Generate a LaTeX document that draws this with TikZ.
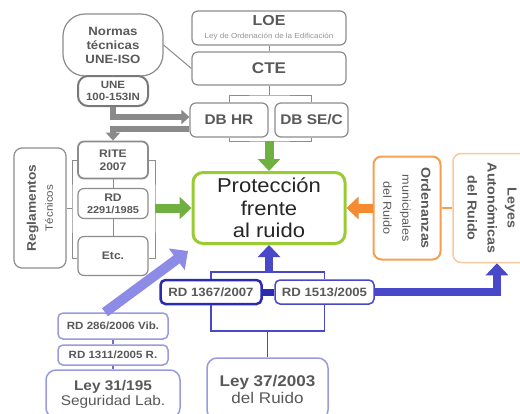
\documentclass[tikz,border=0pt]{standalone}
\usepackage{fontspec}
\setmainfont[FakeStretch=1.1]{Liberation Sans}
\usetikzlibrary{arrows.meta}
\definecolor{gborder}{HTML}{8C8C8C}
\definecolor{gtext}{HTML}{595959}
\definecolor{garrow}{HTML}{8A8A8A}
\definecolor{limeB}{HTML}{99CC33}
\definecolor{greenA}{HTML}{70B040}
\definecolor{orangeB}{HTML}{F5A050}
\definecolor{orangeA}{HTML}{F58A30}
\definecolor{orangeL}{HTML}{F8C8A0}
\definecolor{blueD}{HTML}{2B2BB0}
\definecolor{blueM}{HTML}{4848C8}
\definecolor{blueL}{HTML}{8C8CE6}
\definecolor{blueLB}{HTML}{9A9AE0}
\newcommand{\fs}[2]{\fontsize{#1}{#2}\selectfont}
\begin{document}
\begin{tikzpicture}[x=1pt,y=-1pt,
  gbox/.style={draw=gborder, line width=1.2pt, rounded corners=6pt, fill=white, text=gtext, align=center, inner sep=0pt},
  gline/.style={draw=gborder, line width=1pt},
  grayarrow/.style={draw=garrow, line width=6.5pt, line join=miter, -{Triangle[width=14pt,length=8pt]}},
  greenarrow/.style={draw=greenA, line width=9pt, -{Triangle[width=22pt,length=12pt]}},
  orangearrow/.style={draw=orangeA, line width=9pt, -{Triangle[width=22pt,length=12pt]}},
  bluearrow/.style={draw=blueM, line width=8.5pt, line join=miter, -{Triangle[width=22pt,length=12pt]}},
  bluebar/.style={draw=blueD, line width=7pt},
  blueline/.style={draw=blueM, line width=1.5pt},
  lbluearrow/.style={draw=blueL, line width=10pt, -{Triangle[width=26pt,length=14pt]}},
  lbline/.style={draw=blueM!80, line width=1.2pt},
  bbox/.style={fill=white, text=gtext, align=center, inner sep=0pt},
  obox/.style={fill=white, text=gtext, align=center, inner sep=0pt, rounded corners=8pt}
]
\useasboundingbox (0,0) rectangle (520,413);
\fill[white] (0,0) rectangle (520,413);

% top gray group
\node[gbox, rounded corners=22pt, minimum width=100pt, minimum height=62pt, font=\fs{12}{14}\bfseries] (normas) at (113,45) {Normas\\técnicas\\UNE-ISO};
\node[gbox, minimum width=154pt, minimum height=34pt, font=\fs{8}{13}] (loe) at (269,28) {{\fs{14.5}{15}\bfseries LOE}\\{\fs{7.3}{8}\color{gray!85} Ley de Ordenación de la Edificación}};
\node[gbox, minimum width=154pt, minimum height=33pt, font=\fs{15.5}{17}\bfseries] (cte) at (269,68.5) {CTE};
\node[gbox, draw=gray!95!black, line width=2pt, rounded corners=10pt, minimum width=70pt, minimum height=30pt, font=\fs{10.5}{12}\bfseries] (une) at (113,91) {UNE\\100-153IN};
\node[gbox, minimum width=78pt, minimum height=34pt, font=\fs{14}{16}\bfseries] (dbhr) at (229,120) {DB HR};
\node[gbox, minimum width=73pt, minimum height=34pt, font=\fs{14}{16}\bfseries] (dbse) at (311.5,120) {DB SE/C};

% left gray group
\node[gbox, line width=1.8pt, minimum width=70pt, minimum height=37pt, font=\fs{11}{13}\bfseries] (rite) at (113,160) {RITE\\2007};
\node[gbox, minimum width=70pt, minimum height=30pt, font=\fs{10}{12}\bfseries] (rd2291) at (113,203.5) {{\fs{11}{12}RD}\\2291/1985};
\node[gbox, minimum width=70pt, minimum height=39pt, font=\fs{11}{13}\bfseries] (etc) at (113,256) {Etc.};
\node[gbox, rotate=90, rounded corners=8pt, minimum width=120pt, minimum height=52pt, font=\fs{10.5}{17}] (regl) at (40,208) {{\fs{12.5}{14}\bfseries Reglamentos}\\Técnicos};

% centre
\node[draw=limeB, line width=3pt, rounded corners=10pt, minimum width=152pt, minimum height=71pt, align=center, inner sep=0pt, font=\fs{20}{22.5}, text=black!85, fill=white] (prot) at (269,208) {Protección\\frente\\al ruido};

% right orange group
\node[obox, draw=orangeB, line width=2pt, rotate=-90, minimum width=103pt, minimum height=67pt, font=\fs{11.5}{19}] (orden) at (407,208) {{\fs{13}{15}\bfseries Ordenanzas}\\municipales\\del Ruido};
\node[obox, draw=orangeL, line width=1.5pt, rotate=-90, minimum width=109pt, minimum height=78pt, font=\fs{13}{20}\bfseries] (leyes) at (492,208) {Leyes\\Autonómicas\\del Ruido};

% bottom blue group
\node[bbox, draw=blueD, line width=2.5pt, rounded corners=5pt, minimum width=101pt, minimum height=24pt, font=\fs{12}{14}\bfseries] (rd1367) at (211,292) {RD 1367/2007};
\node[bbox, draw=blueM, line width=1.5pt, rounded corners=5pt, minimum width=99pt, minimum height=24pt, font=\fs{12}{14}\bfseries] (rd1513) at (324.5,292) {RD 1513/2005};
\node[bbox, draw=blueLB, line width=1.5pt, rounded corners=10pt, minimum width=121pt, minimum height=62pt, font=\fs{15.5}{17}] (ley37) at (267.5,389) {{\bfseries Ley 37/2003}\\del Ruido};

% bottom-left light blue group
\node[bbox, draw=blueLB, line width=1.5pt, rounded corners=5pt, minimum width=110pt, minimum height=26pt, font=\fs{10.5}{12}\bfseries] (rd286) at (113,326) {RD 286/2006 Vib.};
\node[bbox, draw=blueLB, line width=1.5pt, rounded corners=5pt, minimum width=110pt, minimum height=20pt, font=\fs{10.5}{12}\bfseries] (rd1311) at (113,355) {RD 1311/2005 R.};
\node[bbox, draw=blueLB, line width=1.5pt, rounded corners=10pt, minimum width=134pt, minimum height=48pt, font=\fs{14}{15}] (ley31) at (113,394) {{\bfseries Ley 31/195}\\Seguridad Lab.};

% connectors: top
\draw[gline] (normas.east) -- (cte.west);
\draw[gline] (normas.south) -- (une.north);
\draw[gline] (loe.south) -- (cte.north);
\coordinate (ctejoin) at (269,95);
\coordinate (dbjoin) at (269,141);
\draw[gline] (cte.south) -- (ctejoin);
\draw[gline] (dbhr.north) |- (ctejoin) -| (dbse.north);
\draw[gline] (dbhr.south) |- (dbjoin) -| (dbse.south);
\draw[greenarrow] (dbjoin) -- (prot.north);

% gray thick arrows
\draw[grayarrow] (une.south) |- ([yshift=3pt]dbhr.west);
\draw[grayarrow] ([yshift=-9pt]dbhr.west) -| (rite.north);

% left group brackets
\coordinate (lbr) at (72,208);
\coordinate (rbr) at (155,208);
\draw[gline] (rite) -- (rd2291);
\draw[gline] (rd2291) -- (etc);
\draw[gline] (rite.west) -| (lbr) |- ([yshift=-2pt]etc.west);
\draw[gline] (rite.east) -| (rbr) |- ([yshift=-2pt]etc.east);
\draw[gline] (regl) -- (lbr);
\draw[greenarrow] (rbr) -- (prot.west);

% orange
\draw[draw=orangeB, line width=1.5pt] (orden) -- (leyes);
\draw[orangearrow] (orden) -- (prot);

% blue
\coordinate (bt) at (269,272);
\coordinate (bb) at (267.5,331);
\draw[bluebar] (rd1367) -- (rd1513);
\draw[blueline] (rd1367.north) |- (bt) -| (rd1513.north);
\draw[blueline] (rd1367.south) |- (bb) -| (rd1513.south);
\draw[blueline] (bb) -- (ley37.north);
\draw[bluearrow] (bt) -- (prot.south);
\draw[bluearrow] (rd1513.east) -| ([xshift=5pt]leyes.east);

% light blue
\draw[lbline] (rd286) -- (rd1311);
\draw[lbline] (rd1311) -- (ley31);
\coordinate (diagtip) at (188,251);
\draw[lbluearrow] ([xshift=-8pt]rd286.north) -- (diagtip);
\end{tikzpicture}
\end{document}
